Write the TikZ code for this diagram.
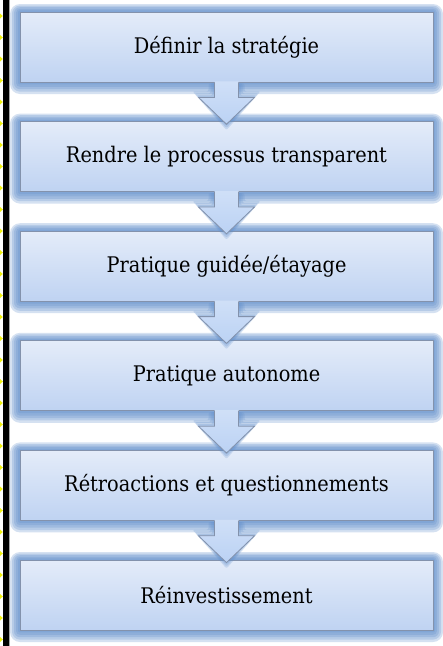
\documentclass[tikz,border=0pt]{standalone}
\usepackage{fontspec}
\setmainfont{DejaVu Serif Condensed}
\usetikzlibrary{calc}
\definecolor{glowc}{HTML}{5E8DCB}
\definecolor{boxtop}{HTML}{E4ECF9}
\definecolor{boxbot}{HTML}{BFD3F2}
\definecolor{edgec}{HTML}{8392AC}
\definecolor{arrfill}{HTML}{BBD2F4}
\definecolor{markc}{HTML}{F2F20A}
\tikzset{
  stepbox/.style={rectangle, minimum width=413pt, minimum height=70pt, inner sep=0pt,
    top color=boxtop, bottom color=boxbot, draw=edgec, line width=0.8pt,
    font=\fontsize{21.5}{26}\selectfont},
  glow/.style={fill=glowc, fill opacity=0.26, draw=none},
  arrfillst/.style={top color=arrfill!70!white, bottom color=arrfill, draw=none},
  arredge/.style={draw=edgec, line width=0.8pt, line join=miter},
}
\begin{document}
\begin{tikzpicture}[x=1pt,y=-1pt]
\useasboundingbox (0,0) rectangle (443,646);
\fill[white] (0,0) rectangle (443,646);
% left border decoration
\fill[black] (3,0) rectangle (8.5,646);
\draw[gray!70, line width=0.8pt] (9.2,0) -- (9.2,646);
\foreach \yy in {16,37.5,...,646} {
  \fill[markc] (0,\yy-2.5) -- (2.8,\yy) -- (0,\yy+2.5) -- cycle;
}
% glows
\foreach \i in {0,...,5} {
  \pgfmathsetmacro{\tp}{12+109.6*\i}
  \foreach \g in {2,4,6,8,10} {
    \fill[glow, rounded corners=\g pt] (20-\g,\tp-\g*0.8) rectangle (433+\g,\tp+70+\g*1.2);
  }
}
% boxes
\node[stepbox] (b1) at (226.5,47) {Définir la stratégie};
\node[stepbox] (b2) at (226.5,156.6) {Rendre le processus transparent};
\node[stepbox] (b3) at (226.5,266.2) {Pratique guidée/étayage};
\node[stepbox] (b4) at (226.5,375.8) {Pratique autonome};
\node[stepbox] (b5) at (226.5,485.4) {Rétroactions et questionnements};
\node[stepbox] (b6) at (226.5,595) {Réinvestissement};
% arrows
\foreach \a/\b in {b1/b2,b2/b3,b3/b4,b4/b5,b5/b6} {
  \foreach \g in {2,4,6} {
    \fill[glow, fill opacity=0.22, rounded corners=2pt]
      ([xshift=-12pt-\g pt,yshift=-1pt]\a.south) -- ([xshift=-12pt-\g pt,yshift=-15pt+\g pt]\a.south)
      -- ([xshift=-28pt-\g pt,yshift=-15pt+\g pt]\a.south) -- ([yshift=-3pt-\g pt]\b.north)
      -- ([xshift=28pt+\g pt,yshift=-15pt+\g pt]\a.south) -- ([xshift=12pt+\g pt,yshift=-15pt+\g pt]\a.south)
      -- ([xshift=12pt+\g pt,yshift=-1pt]\a.south) -- cycle;
  }
  \path[arrfillst]
    ([xshift=-12pt,yshift=1pt]\a.south) -- ([xshift=-12pt,yshift=-15pt]\a.south)
    -- ([xshift=-28pt,yshift=-15pt]\a.south) -- ([yshift=-3pt]\b.north)
    -- ([xshift=28pt,yshift=-15pt]\a.south) -- ([xshift=12pt,yshift=-15pt]\a.south)
    -- ([xshift=12pt,yshift=1pt]\a.south) -- cycle;
  \draw[arredge]
    ([xshift=-12pt]\a.south) -- ([xshift=-12pt,yshift=-15pt]\a.south)
    -- ([xshift=-28pt,yshift=-15pt]\a.south) -- ([yshift=-3pt]\b.north)
    -- ([xshift=28pt,yshift=-15pt]\a.south) -- ([xshift=12pt,yshift=-15pt]\a.south)
    -- ([xshift=12pt]\a.south);
}
\end{tikzpicture}
\end{document}
